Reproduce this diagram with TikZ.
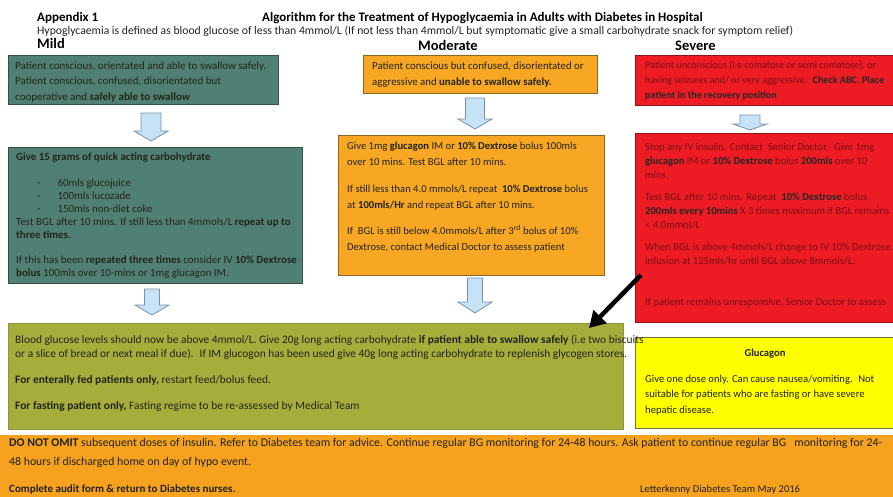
\documentclass[tikz,border=0pt]{standalone}
\usepackage{fontspec}
\setmainfont{Carlito}
\usetikzlibrary{arrows.meta}
\definecolor{mildC}{RGB}{80,128,116}
\definecolor{mildD}{RGB}{50,80,72}
\definecolor{modC}{RGB}{247,167,35}
\definecolor{modD}{RGB}{140,100,40}
\definecolor{sevC}{RGB}{237,28,36}
\definecolor{sevD}{RGB}{140,20,20}
\definecolor{sevT}{RGB}{120,15,20}
\definecolor{oliveC}{RGB}{165,174,58}
\definecolor{oliveD}{RGB}{140,150,60}
\definecolor{yelC}{RGB}{255,255,0}
\definecolor{yelD}{RGB}{110,110,60}
\definecolor{botC}{RGB}{246,162,30}
\definecolor{arrF}{RGB}{198,226,245}
\definecolor{arrD}{RGB}{120,145,175}
\definecolor{txtC}{RGB}{35,35,30}
\newcommand\dnarrow[6]{%
  \draw[blockarr] (#1-#5,#2) -- (#1+#5,#2) -- (#1+#5,#3) -- (#1+#6,#3) -- (#1,#4) -- (#1-#6,#3) -- (#1-#5,#3) -- cycle;}
\newcommand\blk[1]{\textbf{\color{black!85}#1}}
\begin{document}
\begin{tikzpicture}[x=1pt,y=-1pt,
  box/.style={anchor=north west, inner sep=0pt, line width=0.9pt},
  txt/.style={anchor=north west, inner sep=0pt, align=left, text=txtC},
  hdr/.style={anchor=base west, inner sep=0pt, font=\bfseries\fontsize{13}{15}\selectfont, text=black},
  lvl/.style={anchor=base west, inner sep=0pt, font=\bfseries\fontsize{14.5}{16}\selectfont, text=black},
  blockarr/.style={fill=arrF, draw=arrD, line width=0.8pt, line join=miter}]
\useasboundingbox (0,0) rectangle (893,496);
\clip (0,0) rectangle (893,496);
% header
\node[hdr] (app) at (37,21.5) {Appendix 1};
\node[hdr] (title) at (262,21.5) {Algorithm for the Treatment of Hypoglycaemia in Adults with Diabetes in Hospital};
\node[anchor=base west, inner sep=0pt, text=txtC, font=\fontsize{11.7}{14}\selectfont] (sub) at (37,34.5) {Hypoglycaemia is defined as blood glucose of less than 4mmol/L (If not less than 4mmol/L but symptomatic give a small carbohydrate snack for symptom relief)};
\node[lvl] (mild) at (37,48) {Mild};
\node[lvl] (moderate) at (418,50.5) {Moderate};
\node[lvl] (severe) at (675,50.5) {Severe};
% boxes
\node[box, fill=mildC, draw=mildD, minimum width=270, minimum height=49] (mildA) at (8,55) {};
\node[box, fill=modC, draw=modD, minimum width=234, minimum height=38] (modA) at (363,55) {};
\node[box, fill=sevC, draw=sevD, minimum width=270, minimum height=50] (sevA) at (635,55) {};
\node[box, fill=mildC, draw=mildD, minimum width=294, minimum height=136] (mildB) at (8,147) {};
\node[box, fill=modC, draw=modD, minimum width=266, minimum height=140] (modB) at (338,135) {};
\node[box, fill=sevC, draw=sevD, minimum width=270, minimum height=189] (sevB) at (635,133) {};
\node[box, fill=oliveC, draw=oliveD, minimum width=615, minimum height=106] (olive) at (8,323) {};
\node[box, fill=yelC, draw=yelD, minimum width=270, minimum height=91] (gluc) at (635,337) {};
\node[box, fill=botC, minimum width=893, minimum height=62] (bottom) at (0,435) {};
% arrows
\dnarrow{151}{113}{131}{141}{10}{17}
\dnarrow{475}{98}{119}{129}{9.5}{17}
\dnarrow{750}{115}{124}{130}{10}{17}
\dnarrow{152}{289}{305}{315}{7.5}{17}
\dnarrow{475}{278}{302}{313}{7.5}{17}
\coordinate (blkS) at (641,275);
\coordinate (blkE) at (589,328);
\draw[line width=4.5pt, -{Triangle[length=16pt,width=18pt]}] (blkS) -- (blkE);
% texts
\node[txt, font=\fontsize{11}{15.5}\selectfont] (mildAt) at (15,61.6) {Patient conscious, orientated and able to swallow safely.\\Patient conscious, confused, disorientated but\\cooperative and \textbf{safely able to swallow}};
\node[txt, font=\fontsize{10.9}{13}\selectfont] (mildBt) at (16,152.7) {\textbf{Give 15 grams of quick acting carbohydrate}\\[13pt]
\hspace*{21pt}-\hspace{17pt}60mls glucojuice\\
\hspace*{21pt}-\hspace{17pt}100mls lucozade\\
\hspace*{21pt}-\hspace{17pt}150mls non-diet coke\\
Test BGL after 10 mins. If still less than 4mmols/L \textbf{repeat up to}\\
\textbf{three times.}\\[12pt]
If this has been \textbf{repeated three times} consider IV \textbf{10\% Dextrose}\\
\textbf{bolus} 100mls over 10-mins or 1mg glucagon IM.};
\node[txt, font=\fontsize{10.8}{16}\selectfont] (modAt) at (372,61.7) {Patient conscious but confused, disorientated or\\aggressive and \textbf{unable to swallow safely.}};
\node[txt, font=\fontsize{10.6}{16}\selectfont] (modBt) at (347,141.8) {Give 1mg \textbf{glucagon} IM or \textbf{10\% Dextrose} bolus 100mls\\
over 10 mins. Test BGL after 10 mins.\\[11pt]
If still less than 4.0 mmols/L repeat \ \textbf{10\% Dextrose} bolus\\
at \textbf{100mls/Hr} and repeat BGL after 10 mins.\\[10pt]
If \ BGL is still below 4.0mmols/L after 3\textsuperscript{rd} bolus of 10\%\\
Dextrose, contact Medical Doctor to assess patient};
\node[txt, text=sevT, font=\fontsize{10.1}{15}\selectfont] (sevAt) at (645,61) {Patient unconscious (i.e comatose or semi comatose), or\\having seizures and/ or very aggressive. \ \blk{Check ABC. Place}\\\blk{patient in the recovery position}};
\node[txt, text=sevT, font=\fontsize{10.6}{14}\selectfont] (sevBt) at (645,142.8) {Stop any IV insulin. Contact \ Senior Doctor. \ Give 1mg\\
\blk{glucagon} IM or \blk{10\% Dextrose} bolus \blk{200mls} over 10\\
mins.\\[8pt]
Test BGL after 10 mins. Repeat \ \blk{10\% Dextrose} bolus\\
\blk{200mls every 10mins} X 3 times maximum if BGL remains\\
< 4.0mmol/L\\[8pt]
When BGL is above 4mmols/L change to IV 10\% Dextrose\\
infusion at 125mls/hr until BGL above 8mmols/L.\\[27pt]
If patient remains unresponsive, Senior Doctor to assess};
\node[txt, font=\fontsize{11.4}{14}\selectfont] (olivet) at (15,335.4) {Blood glucose levels should now be above 4mmol/L. Give 20g long acting carbohydrate \textbf{if patient able to swallow safely} (i.e two biscuits\\
or a slice of bread or next meal if due). \ If IM glucogon has been used give 40g long acting carbohydrate to replenish glycogen stores.\\[12pt]
\textbf{For enterally fed patients only,} restart feed/bolus feed.\\[12pt]
\textbf{For fasting patient only,} Fasting regime to be re-assessed by Medical Team};
\node[anchor=center, inner sep=0pt, text=txtC, font=\bfseries\fontsize{10.6}{12}\selectfont] (glucT) at (765,354) {Glucagon};
\node[txt, font=\fontsize{10.6}{15.5}\selectfont] (glucB) at (645,374.8) {Give one dose only. Can cause nausea/vomiting. \ Not\\suitable for patients who are fasting or have severe\\hepatic disease.};
\node[txt, font=\fontsize{11.8}{19}\selectfont] (bott) at (9,438.2) {\textbf{DO NOT OMIT} subsequent doses of insulin. Refer to Diabetes team for advice. Continue regular BG monitoring for 24-48 hours. Ask patient to continue regular BG \ \ monitoring for 24-\\48 hours if discharged home on day of hypo event.};
\node[txt, font=\fontsize{11}{12}\selectfont] (audit) at (9,484.6) {\textbf{Complete audit form \& return to Diabetes nurses.}};
\node[txt, font=\fontsize{10.5}{12}\selectfont] (team) at (640,484.9) {Letterkenny Diabetes Team May 2016};
\end{tikzpicture}
\end{document}
